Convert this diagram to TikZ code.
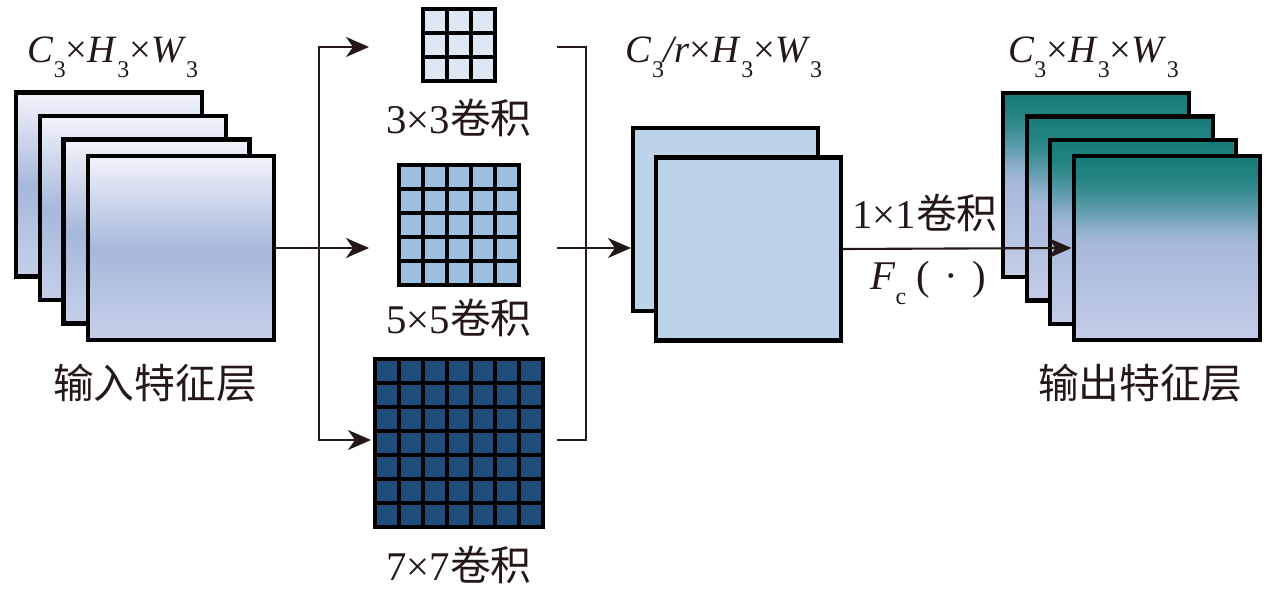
\documentclass[tikz,border=0pt]{standalone}
\usepackage{fontspec}
\setmainfont{Liberation Serif}
\newfontfamily\cjk{Noto Sans CJK SC}
\usepackage{tikz}
\usetikzlibrary{positioning,arrows.meta,shapes}
\definecolor{ink}{HTML}{231815}
\definecolor{inTop}{HTML}{F1F4FA}
\definecolor{inMid}{HTML}{A8B8DB}
\definecolor{inBot}{HTML}{C5CFE9}
\definecolor{midFill}{HTML}{BCD3E9}
\definecolor{outA}{HTML}{167C78}
\definecolor{outB}{HTML}{1F827F}
\definecolor{outC}{HTML}{3A8E92}
\definecolor{outD}{HTML}{6AA0B5}
\definecolor{outF}{HTML}{8AAEC8}
\definecolor{outE}{HTML}{C3CDE8}
\definecolor{kThree}{HTML}{DCE7F3}
\definecolor{kFive}{HTML}{9BBFDF}
\definecolor{kSeven}{HTML}{1F4C78}
\pgfdeclareverticalshading{outshade}{100bp}{color(0bp)=(outE); color(25bp)=(outE); color(51bp)=(inMid); color(55.5bp)=(outF); color(59bp)=(outD); color(65bp)=(outC); color(70bp)=(outB); color(75bp)=(outA); color(100bp)=(outA)}
\newcommand{\zh}[1]{{\cjk #1}}
\newcommand{\lowsub}[1]{\raisebox{-4.2pt}{\fontsize{6.8}{7}\selectfont #1}}
\tikzstyle{sheetin}=[draw, line width=1.15pt, minimum width=18.6mm, minimum height=18.4mm, top color=inTop, bottom color=inBot, middle color=inMid]
\tikzstyle{sheetmid}=[draw, line width=1.15pt, minimum width=18.5mm, minimum height=18.3mm, fill=midFill]
\tikzstyle{sheetout}=[draw, line width=1.15pt, minimum width=18.6mm, minimum height=18.4mm, shading=outshade, shade]
\tikzstyle{kern}=[draw, line width=1.15pt, inner sep=0pt, outer sep=0pt]
\tikzstyle{gl}=[line width=0.95pt]
\tikzstyle{link}=[draw=ink, line width=0.6pt]
\tikzstyle{dims}=[font=\fontsize{11}{13}\selectfont, text=ink, inner sep=0pt]
\tikzstyle{zhlabel}=[font=\fontsize{11.6}{14}\selectfont, text=ink, inner sep=0pt]

\begin{document}
\begin{tikzpicture}[x=0.1mm,y=-0.1mm,>={Stealth[length=2.3mm,width=2mm,inset=0.7mm]}]
\useasboundingbox (0,0) rectangle (1276,595);

% input feature layer
\node[sheetin] at (109,184.5) (in1) {};
\node[sheetin] at (133,208) (in2) {};
\node[sheetin] at (156.5,231.5) (in3) {};
\node[sheetin] at (181,248) (in4) {};
\node[dims, anchor=base] at (113,63) (din) {\textit{C}\lowsub{3}×\textit{H}\lowsub{3}×\textit{W}\lowsub{3}};
\node[zhlabel] at (155,383) (lin) {\zh{输入特征层}};

% kernels
\node[kern, fill=kThree, minimum size=7.2mm] at (459,45) (g3) {};
\foreach \i in {1,2} {
  \draw[gl] ([xshift=\i*2.4mm]g3.north west) -- ([xshift=\i*2.4mm]g3.south west);
  \draw[gl] ([yshift=-\i*2.4mm]g3.north west) -- ([yshift=-\i*2.4mm]g3.north east);
}
\node[zhlabel, below of=g3, node distance=7.3mm] (l3) {3×3\zh{卷积}};

\node[kern, fill=kFive, minimum size=12mm] at (459,225) (g5) {};
\foreach \i in {1,...,4} {
  \draw[gl] ([xshift=\i*2.4mm]g5.north west) -- ([xshift=\i*2.4mm]g5.south west);
  \draw[gl] ([yshift=-\i*2.4mm]g5.north west) -- ([yshift=-\i*2.4mm]g5.north east);
}
\node[zhlabel, below of=g5, node distance=9.3mm] (l5) {5×5\zh{卷积}};

\node[kern, fill=kSeven, minimum size=16.8mm] at (459,443) (g7) {};
\foreach \i in {1,...,6} {
  \draw[gl] ([xshift=\i*2.4mm]g7.north west) -- ([xshift=\i*2.4mm]g7.south west);
  \draw[gl] ([yshift=-\i*2.4mm]g7.north west) -- ([yshift=-\i*2.4mm]g7.north east);
}
\node[zhlabel, below of=g7, node distance=12.2mm] (l7) {7×7\zh{卷积}};

% split
\coordinate (fork) at (319,248);
\coordinate (t1) at (369,47);
\coordinate (t2) at (369,248);
\coordinate (t3) at (371,440);
\draw[link,->] (in4.east) -- (t2);
\draw[link,->] (fork) |- (t1);
\draw[link,->] (fork) |- (t3);

% middle layer
\node[sheetmid] at (725.5,219.5) (m1) {};
\node[sheetmid] at (748.5,249) (m2) {};
\node[dims, anchor=base] at (724,63) (dmid) {\textit{C}\lowsub{3}\textit{/r}×\textit{H}\lowsub{3}×\textit{W}\lowsub{3}};

% merge
\coordinate (j1) at (557,47);
\coordinate (j2) at (557,248);
\coordinate (j3) at (557,440);
\coordinate (merge) at (586,248);
\draw[link] (j1) -| (merge) |- (j3);
\draw[link,->] (j2) -- (j2 -| m1.west);

% output feature layer
\node[sheetout] at (1096,185) (out1) {};
\node[sheetout] at (1120,208.5) (out2) {};
\node[sheetout] at (1143,232) (out3) {};
\node[sheetout] at (1166.5,248) (out4) {};
\node[dims, anchor=base] at (1093.5,63) (dout) {\textit{C}\lowsub{3}×\textit{H}\lowsub{3}×\textit{W}\lowsub{3}};
\node[zhlabel] at (1140,383) (lout) {\zh{输出特征层}};

\draw[link,->] (m2.east) -- (out4.west);
\node[zhlabel] at (925,213) (conv) {1×1\zh{卷积}};
\node[zhlabel] at (928,283) (fc) {\textit{F}\lowsub{c}\hspace{3pt}(\hspace{4pt}·\hspace{4pt})};
\end{tikzpicture}
\end{document}
